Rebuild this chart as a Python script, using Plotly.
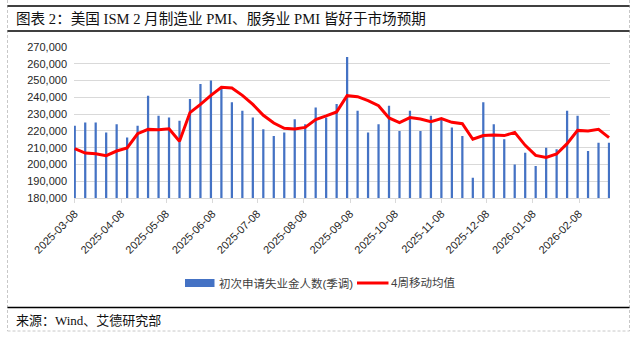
import pandas as pd
import plotly.graph_objects as go

# Weekly initial jobless claims (seasonally adjusted) and the 4-week moving average
week_ending = pd.date_range("2025-03-08", periods=52, freq="7D")

claims = [223000, 225000, 225000, 219000, 224000, 216000, 223000, 241000, 229000, 228000,
          226000, 239000, 248000, 250000, 246000, 237000, 232000, 228000, 221000, 217000,
          219000, 227000, 224000, 234000, 228000, 236000, 264000, 232000, 219000, 224000,
          235000, 220000, 232000, 220000, 229000, 227000, 222000, 217000, 192000, 237000,
          224000, 215000, 200000, 207000, 199000, 210000, 209000, 232000, 229000, 208000,
          213000, 213000]

ma4 = [209400, 206800, 206400, 205200, 208000, 209800, 218300, 220900, 220700, 221300,
       213800, 230900, 235800, 241200, 246000, 245600, 241200, 235800, 229300, 224700,
       221500, 221100, 222100, 226700, 228900, 231300, 241000, 240400, 238000, 235000,
       227700, 224900, 227900, 227100, 225500, 227400, 225100, 224300, 215000, 217200,
       217600, 217200, 219100, 211400, 205400, 204200, 206200, 212400, 220300, 219900,
       220900, 216000]

series_names = ["初次申请失业金人数(季调)", "4周移动均值"]
title_text = "图表 2：美国 ISM 2 月制造业 PMI、服务业 PMI 皆好于市场预期"
source_text = "来源：Wind、艾德研究部"

BAR_COLOR = "#4472C4"
LINE_COLOR = "#FF0000"
GRID = "#D9D9D9"

# plot area in pixels
WIDTH, HEIGHT = 635, 340
L, R, T, B = 74, 25, 47, 142
PW = WIDTH - L - R
PH = HEIGHT - T - B


def px(x):
    return (x - L) / PW


def py(y):
    return (HEIGHT - B - y) / PH


DAY_MS = 86400000

fig = go.Figure()
fig.add_trace(go.Bar(
    x=week_ending, y=claims, name=series_names[0],
    marker=dict(color=BAR_COLOR, line=dict(width=0)),
    width=1.5 * DAY_MS,
))
fig.add_trace(go.Scatter(
    x=week_ending, y=ma4, name=series_names[1], mode="lines",
    line=dict(color=LINE_COLOR, width=3),
))

shapes = []
# outer dashed frame
for x0, y0, x1, y1 in [(7.5, 0, 7.5, 331), (629.5, 0, 629.5, 331), (7.5, 331, 629.5, 331)]:
    shapes.append(dict(type="line", xref="paper", yref="paper",
                       x0=px(x0), y0=py(y0), x1=px(x1), y1=py(y1),
                       line=dict(color="#C8C8C8", width=1, dash="3px,2px")))
# black rules around the heading and above the source line
for yy in (6, 31, 307.5):
    shapes.append(dict(type="line", xref="paper", yref="paper",
                       x0=px(7.5), y0=py(yy), x1=px(629.5), y1=py(yy),
                       line=dict(color="#000000", width=1.6)))
# legend swatches
shapes.append(dict(type="rect", xref="paper", yref="paper",
                   x0=px(185), y0=py(287), x1=px(214.5), y1=py(279),
                   fillcolor=BAR_COLOR, line=dict(width=0)))
shapes.append(dict(type="line", xref="paper", yref="paper",
                   x0=px(357), y0=py(283), x1=px(388.5), y1=py(283),
                   line=dict(color=LINE_COLOR, width=3)))

annotations = [
    dict(text=title_text, xref="paper", yref="paper", x=px(14), y=py(18.5),
         xanchor="left", yanchor="middle", showarrow=False,
         font=dict(family="Liberation Serif, Noto Sans CJK SC", size=14.6, color="#111111")),
    dict(text=source_text, xref="paper", yref="paper", x=px(14), y=py(320),
         xanchor="left", yanchor="middle", showarrow=False,
         font=dict(family="Liberation Serif, Noto Sans CJK SC", size=13, color="#111111")),
    dict(text=series_names[0], xref="paper", yref="paper", x=px(216.5), y=py(283),
         xanchor="left", yanchor="middle", showarrow=False,
         font=dict(family="Liberation Sans, Noto Sans CJK SC", size=11.5, color="#404040")),
    dict(text=series_names[1], xref="paper", yref="paper", x=px(389), y=py(283),
         xanchor="left", yanchor="middle", showarrow=False,
         font=dict(family="Liberation Sans, Noto Sans CJK SC", size=11.5, color="#404040")),
]

x_start = week_ending[0] - pd.Timedelta(hours=12)
x_end = week_ending[-1] + pd.Timedelta(hours=16)

fig.update_layout(
    width=WIDTH, height=HEIGHT,
    margin=dict(l=L, r=R, t=T, b=B, pad=0),
    paper_bgcolor="#FFFFFF", plot_bgcolor="#FFFFFF",
    showlegend=False,
    barmode="overlay",
    shapes=shapes,
    annotations=annotations,
    font=dict(family="Liberation Sans, Noto Sans CJK SC", color="#262626"),
    xaxis=dict(
        type="date", range=[x_start, x_end],
        tick0="2025-03-08", dtick="M1", tickformat="%Y-%m-%d",
        tickangle=-45, ticks="outside", ticklen=4, tickcolor=GRID,
        showline=True, linecolor=GRID, linewidth=1,
        showgrid=False, zeroline=False,
        tickfont=dict(size=11, color="#262626"),
    ),
    yaxis=dict(
        range=[180000, 270000], dtick=10000, tick0=180000, tickformat=",d",
        showgrid=True, gridcolor=GRID, gridwidth=1,
        showline=False, zeroline=False, ticks="",
        ticklabelstandoff=6,
        tickfont=dict(size=11, color="#262626"),
    ),
)

fig.write_html("out.html")
